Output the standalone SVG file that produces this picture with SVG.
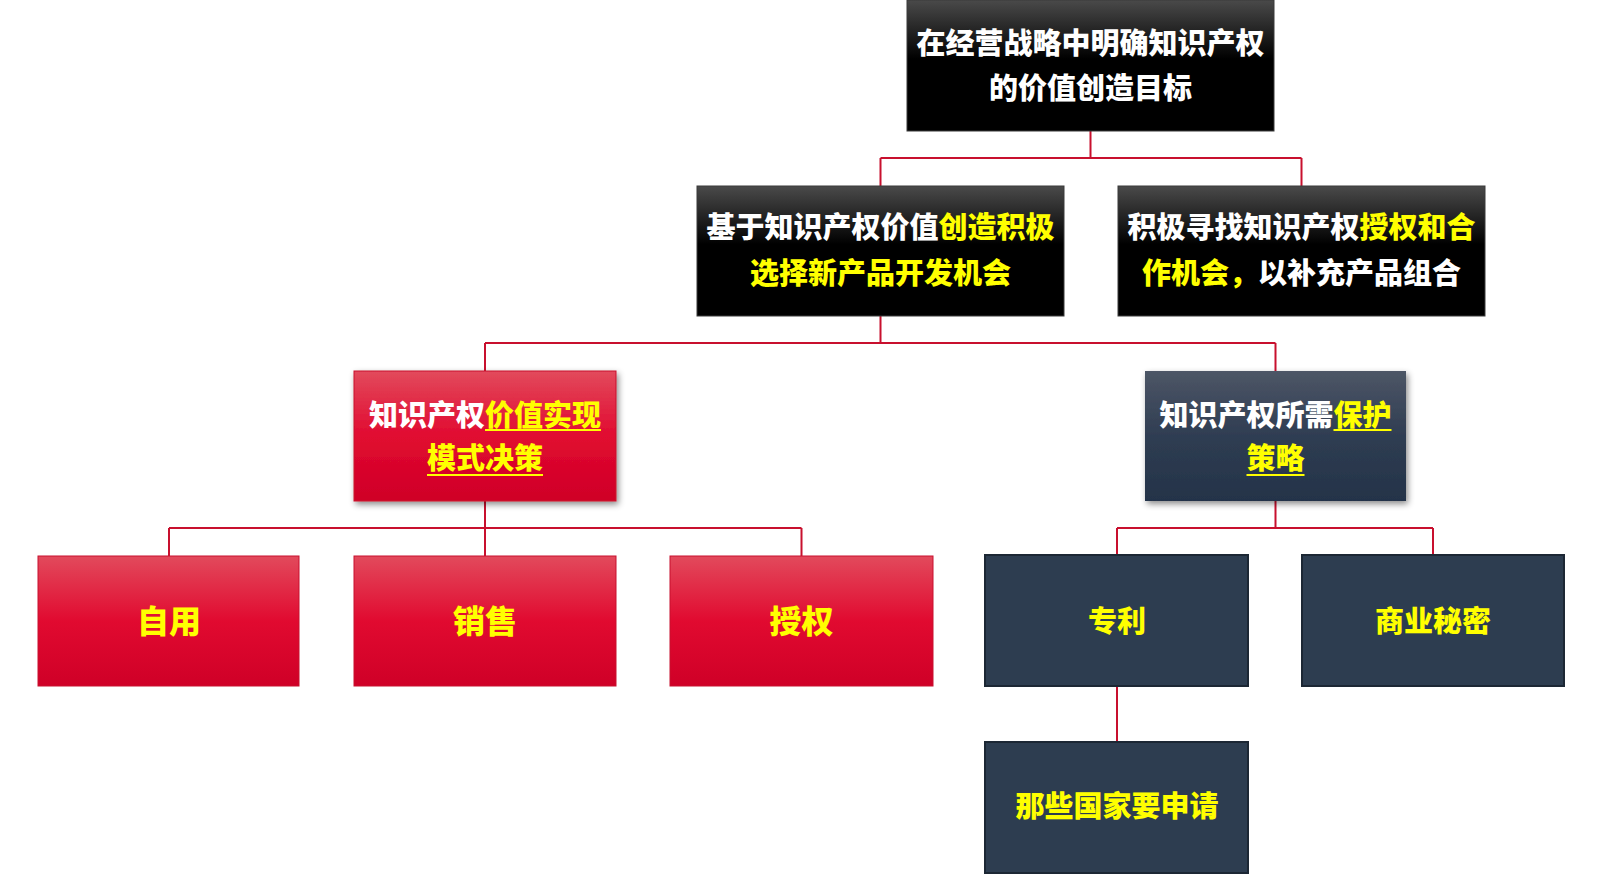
<svg xmlns="http://www.w3.org/2000/svg" width="1602" height="874" viewBox="0 0 1602 874">
<defs>
<linearGradient id="gBlack" x1="0" y1="0" x2="0" y2="1">
<stop offset="0" stop-color="#4a4a4a"/>
<stop offset="0.45" stop-color="#000"/>
<stop offset="1" stop-color="#000"/>
</linearGradient>
<linearGradient id="gRed" x1="0" y1="0" x2="0" y2="1">
<stop offset="0" stop-color="#e24a5c"/>
<stop offset="0.5" stop-color="#e10a30"/>
<stop offset="1" stop-color="#cf0027"/>
</linearGradient>
<linearGradient id="gSlate" x1="0" y1="0" x2="0" y2="1">
<stop offset="0" stop-color="#4d5666"/>
<stop offset="0.5" stop-color="#2f3d52"/>
<stop offset="1" stop-color="#243349"/>
</linearGradient>
<filter id="shadow" x="-10%" y="-10%" width="125%" height="130%">
<feDropShadow dx="2" dy="3" stdDeviation="3" flood-color="#000" flood-opacity="0.45"/>
</filter>
<style>
.t{font-family:"Noto Sans CJK SC","Noto Sans",sans-serif;font-weight:900;text-anchor:middle;dominant-baseline:central}
.w{fill:#fff}
.y{fill:#ffff00}
.blk{fill:url(#gBlack);stroke:#3a3a3a;stroke-width:1}
.red{fill:url(#gRed);stroke:#c8102e;stroke-width:1}
.slate{fill:url(#gSlate)}
.dark{fill:#2d3d50;stroke:#1c2734;stroke-width:2}
.conn{fill:none;stroke:#c8102e;stroke-width:2}
.ul{stroke:#ffff00;stroke-width:2.2}
</style>
</defs>

<g id="connectors">
<path class="conn" d="M1090.5 131 V158 M880.5 158 H1301.5 M880.5 158 V186 M1301.5 158 V186"/>
<path class="conn" d="M880.5 316 V343 M485 343 H1275.5 M485 343 V371 M1275.5 343 V371"/>
<path class="conn" d="M485 501 V528 M169 528 H801.5 M169 528 V556 M485 528 V556 M801.5 528 V556"/>
<path class="conn" d="M1275.5 501 V528 M1117 528 H1433 M1117 528 V555 M1433 528 V555"/>
<path class="conn" d="M1117 686 V742"/>
</g>

<g id="n-goal">
<rect class="blk" x="907" y="0" width="367" height="131"/>
<text class="t w" x="1090.5" y="41" font-size="29">在经营战略中明确知识产权</text>
<text class="t w" x="1090.5" y="86" font-size="29">的价值创造目标</text>
</g>

<g id="n-newproduct">
<rect class="blk" x="697" y="186" width="367" height="130"/>
<text class="t" x="880.5" y="225" font-size="29"><tspan class="w">基于知识产权价值</tspan><tspan class="y">创造积极</tspan></text>
<text class="t y" x="880.5" y="271" font-size="29">选择新产品开发机会</text>
</g>

<g id="n-license">
<rect class="blk" x="1118" y="186" width="367" height="130"/>
<text class="t" x="1301.5" y="225" font-size="29"><tspan class="w">积极寻找知识产权</tspan><tspan class="y">授权和合</tspan></text>
<text class="t" x="1301.5" y="271" font-size="29"><tspan class="y">作机会，</tspan><tspan class="w">以补充产品组合</tspan></text>
</g>

<g id="n-value">
<rect class="red" x="354" y="371" width="262" height="130" filter="url(#shadow)"/>
<text class="t" x="485" y="413" font-size="29"><tspan class="w">知识产权</tspan><tspan class="y">价值实现</tspan></text>
<text class="t y" x="485" y="456" font-size="29">模式决策</text>
<line class="ul" x1="485" y1="430" x2="601" y2="430"/>
<line class="ul" x1="427" y1="475" x2="543" y2="475"/>
</g>

<g id="n-protect">
<rect class="slate" x="1145" y="371" width="261" height="130" filter="url(#shadow)"/>
<text class="t" x="1275.5" y="413" font-size="29"><tspan class="w">知识产权所需</tspan><tspan class="y">保护</tspan></text>
<text class="t y" x="1275.5" y="456" font-size="29">策略</text>
<line class="ul" x1="1333.5" y1="430" x2="1391.5" y2="430"/>
<line class="ul" x1="1246.5" y1="475" x2="1304.5" y2="475"/>
</g>

<g id="n-selfuse">
<rect class="red" x="38" y="556" width="261" height="130"/>
<text class="t y" x="169" y="619" font-size="32">自用</text>
</g>

<g id="n-sale">
<rect class="red" x="354" y="556" width="262" height="130"/>
<text class="t y" x="485" y="619" font-size="32">销售</text>
</g>

<g id="n-grant">
<rect class="red" x="670" y="556" width="263" height="130"/>
<text class="t y" x="801.5" y="619" font-size="32">授权</text>
</g>

<g id="n-patent">
<rect class="dark" x="985" y="555" width="263" height="131"/>
<text class="t y" x="1117" y="619" font-size="29">专利</text>
</g>

<g id="n-secret">
<rect class="dark" x="1302" y="555" width="262" height="131"/>
<text class="t y" x="1433" y="619" font-size="29">商业秘密</text>
</g>

<g id="n-countries">
<rect class="dark" x="985" y="742" width="263" height="131"/>
<text class="t y" x="1117" y="804" font-size="29">那些国家要申请</text>
</g>
</svg>
